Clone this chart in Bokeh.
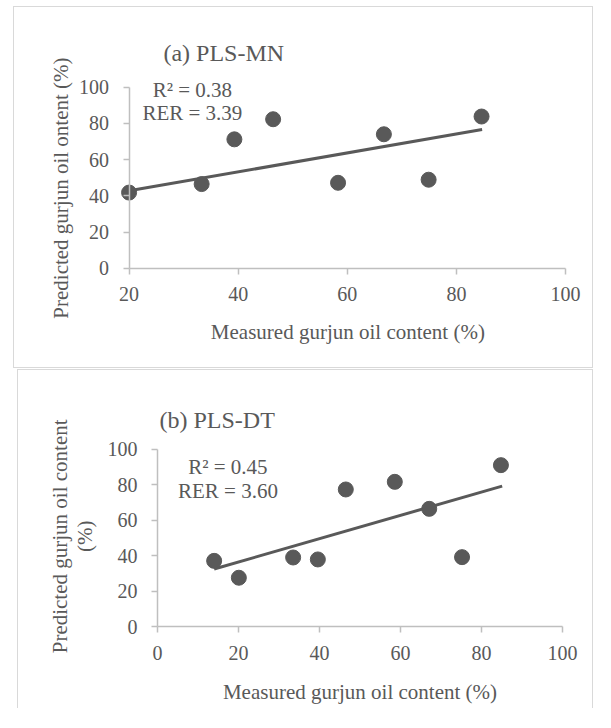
import math
from bokeh.plotting import figure
from bokeh.layouts import column
from bokeh.models import Label, FixedTicker, Range1d, LinearAxis
from bokeh.embed import file_html
from bokeh.resources import INLINE

# ---- data ----
mn_measured = [20.0, 33.3, 39.3, 46.4, 58.3, 66.7, 74.9, 84.6]
mn_predicted = [41.8, 46.5, 71.2, 82.3, 47.2, 74.0, 48.9, 83.8]
mn_trend_x = [20.0, 84.7]
mn_trend_y = [42.8, 76.6]
mn_title = "(a) PLS-MN"
mn_stats = ["R\u00b2 = 0.38", "RER = 3.39"]
mn_xticks = [20, 40, 60, 80, 100]

dt_measured = [14.0, 20.1, 33.5, 39.6, 46.5, 58.6, 67.1, 75.2, 84.8]
dt_predicted = [37.1, 27.6, 39.0, 37.9, 77.3, 81.6, 66.4, 39.2, 91.0]
dt_trend_x = [14.0, 85.1]
dt_trend_y = [32.5, 79.2]
dt_title = "(b) PLS-DT"
dt_stats = ["R\u00b2 = 0.45", "RER = 3.60"]
dt_xticks = [0, 20, 40, 60, 80, 100]

yticks = [0, 20, 40, 60, 80, 100]
xlabel = "Measured gurjun oil content (%)"
ylabel_a = "Predicted gurjun oil ontent (%)"
ylabel_b = ["Predicted gurjun oil content", "(%)"]

FONT = "Liberation Serif"
TXT = "#595959"
MARK = "#595959"
AXIS = "#bfbfbf"
BORDER = "1px solid #d9d9d9"


def make_axes(p, xticks, xbounds, ybounds):
    xa = LinearAxis(fixed_location=ybounds[0], bounds=xbounds,
                    ticker=FixedTicker(ticks=xticks))
    ya = LinearAxis(fixed_location=xbounds[0], bounds=ybounds,
                    ticker=FixedTicker(ticks=yticks))
    for ax in (xa, ya):
        ax.axis_line_color = AXIS
        ax.axis_line_width = 1.5
        ax.major_tick_line_color = AXIS
        ax.major_tick_line_width = 1.5
        ax.major_tick_out = 6
        ax.major_tick_in = 0
        ax.minor_tick_line_color = None
        ax.major_label_text_font = FONT
        ax.major_label_text_font_size = "20px"
        ax.major_label_text_color = TXT
    xa.major_label_standoff = 13
    ya.major_label_standoff = 14
    p.add_layout(xa, "below")
    p.add_layout(ya, "left")
    p.outline_line_color = None
    for g in p.grid:
        g.visible = False
        g.grid_line_color = None


def add_label(p, x, y, text, size="21px", align="left", baseline="alphabetic", angle=0.0):
    p.add_layout(Label(x=x, y=y, text=text, text_font=FONT, text_font_size=size,
                       text_color=TXT, text_align=align, text_baseline=baseline,
                       angle=angle))


common = dict(output_backend="svg", toolbar_location=None, title=None,
              x_axis_location=None, y_axis_location=None, min_border=0,
              background_fill_color="white", border_fill_color="white")

# ---- panel (a) ----
pa = figure(width=580, height=362,
            x_range=Range1d(-1.0, 105.3), y_range=Range1d(-55.9, 144.0),
            margin=(6, 0, 0, 13), styles={"border": BORDER}, **common)
make_axes(pa, mn_xticks, (20, 100), (0, 100))
pa.line(mn_trend_x, mn_trend_y, line_color=MARK, line_width=3)
pa.scatter(mn_measured, mn_predicted, size=15, fill_color=MARK, line_color=MARK)
add_label(pa, 26.3, 119.0, mn_title, size="24px")
add_label(pa, 31.6, 98.6, mn_stats[0], align="center")
add_label(pa, 31.6, 85.9, mn_stats[1], align="center")
add_label(pa, 60.1, -35.4, xlabel, align="center")
add_label(pa, 7.5, 44.3, ylabel_a, align="center", baseline="middle", angle=math.pi / 2)

# ---- panel (b) ----
pb = figure(width=576, height=339,
            x_range=Range1d(-34.3, 107.9), y_range=Range1d(-46.6, 144.3),
            margin=(1, 0, 0, 17),
            styles={"border-top": BORDER, "border-left": BORDER, "border-right": BORDER},
            **common)
make_axes(pb, dt_xticks, (0, 100), (0, 100))
pb.line(dt_trend_x, dt_trend_y, line_color=MARK, line_width=3)
pb.scatter(dt_measured, dt_predicted, size=15, fill_color=MARK, line_color=MARK)
add_label(pb, 0.5, 116.4, dt_title, size="24px")
add_label(pb, 17.4, 90.1, dt_stats[0], align="center")
add_label(pb, 17.4, 76.4, dt_stats[1], align="center")
add_label(pb, 50.0, -36.6, xlabel, align="center")
add_label(pb, -24.1, 50.9, ylabel_b[0], align="center", baseline="middle", angle=math.pi / 2)
add_label(pb, -17.8, 50.9, ylabel_b[1], align="center", baseline="middle", angle=math.pi / 2)

layout = column(pa, pb, spacing=0)
open("out.html", "w").write(file_html(layout, INLINE))
